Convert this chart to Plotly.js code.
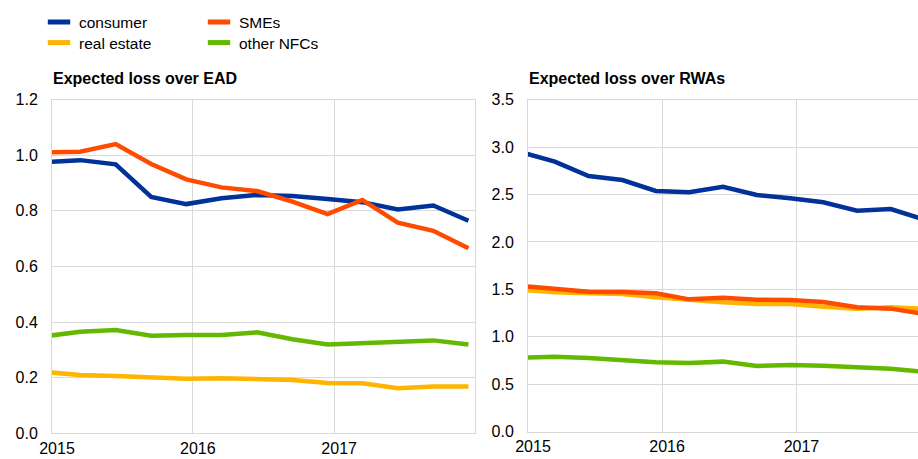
<!DOCTYPE html>
<html>
<head>
<meta charset="utf-8">
<script src="https://cdn.plot.ly/plotly-3.0.1.min.js"></script>
<style>
html, body { margin: 0; padding: 0; background: #fff; }
#chart { width: 918px; height: 459px; }
</style>
</head>
<body>
<div id="chart"></div>
<script>
// Quarterly observations (mid-month of Dec, Mar, Jun, Sep)
var dates = ["2014-12-15","2015-03-15","2015-06-15","2015-09-15","2015-12-15",
             "2016-03-15","2016-06-15","2016-09-15","2016-12-15",
             "2017-03-15","2017-06-15","2017-09-15","2017-12-15"];

// Left panel: expected loss over EAD
var consumerEAD   = [0.975, 0.982, 0.967, 0.850, 0.824, 0.845, 0.857, 0.853, 0.842, 0.831, 0.805, 0.819, 0.764];
var smeEAD        = [1.010, 1.012, 1.040, 0.968, 0.913, 0.884, 0.871, 0.833, 0.788, 0.839, 0.757, 0.728, 0.665];
var realEstateEAD = [0.220, 0.210, 0.206, 0.202, 0.196, 0.198, 0.193, 0.192, 0.181, 0.180, 0.162, 0.168, 0.168];
var otherNfcEAD   = [0.349, 0.365, 0.371, 0.351, 0.353, 0.353, 0.363, 0.338, 0.319, 0.323, 0.327, 0.334, 0.319];

// Right panel: expected loss over RWAs
var consumerRWA   = [2.945, 2.846, 2.695, 2.653, 2.537, 2.523, 2.582, 2.495, 2.460, 2.418, 2.329, 2.347, 2.236];
var smeRWA        = [1.535, 1.503, 1.475, 1.472, 1.458, 1.394, 1.412, 1.391, 1.387, 1.366, 1.310, 1.296, 1.240];
var realEstateRWA = [1.495, 1.470, 1.458, 1.450, 1.416, 1.387, 1.363, 1.345, 1.345, 1.317, 1.296, 1.310, 1.295];
var otherNfcRWA   = [0.778, 0.789, 0.775, 0.754, 0.730, 0.723, 0.737, 0.691, 0.701, 0.694, 0.680, 0.662, 0.630];

var seriesNames = ["consumer", "SMEs", "real estate", "other NFCs"];
var yearTickVals = ["2015-01-01", "2016-01-01", "2017-01-01"];
var yearTickText = ["2015", "2016", "2017"];
var panelTitles = ["Expected loss over EAD", "Expected loss over RWAs"];

var colors = {consumer: "#003299", sme: "#FF4B00", realEstate: "#FFB400", otherNfc: "#65B800"};
var W = 918, H = 459;
var FONT = "Liberation Sans, Arial, sans-serif";

function line(x, y, color, xa, ya, name) {
  return {type: "scatter", mode: "lines", x: x, y: y, name: name, xaxis: xa, yaxis: ya,
          line: {color: color, width: 4.5}, showlegend: false, hoverinfo: "skip"};
}
function legendItem(name, color, leg) {
  return {type: "scatter", mode: "markers", x: [null], y: [null], name: name, legend: leg,
          marker: {symbol: "line-ew", size: 17, color: color, line: {color: color, width: 6}},
          showlegend: true, hoverinfo: "skip"};
}

var data = [
  line(dates, consumerEAD, colors.consumer, "x", "y", seriesNames[0]),
  line(dates, realEstateEAD, colors.realEstate, "x", "y", seriesNames[2]),
  line(dates, smeEAD, colors.sme, "x", "y", seriesNames[1]),
  line(dates, otherNfcEAD, colors.otherNfc, "x", "y", seriesNames[3]),
  line(dates, consumerRWA, colors.consumer, "x2", "y2", seriesNames[0]),
  line(dates, realEstateRWA, colors.realEstate, "x2", "y2", seriesNames[2]),
  line(dates, smeRWA, colors.sme, "x2", "y2", seriesNames[1]),
  line(dates, otherNfcRWA, colors.otherNfc, "x2", "y2", seriesNames[3]),
  legendItem(seriesNames[0], colors.consumer, "legend"),
  legendItem(seriesNames[1], colors.sme, "legend"),
  legendItem(seriesNames[2], colors.realEstate, "legend2"),
  legendItem(seriesNames[3], colors.otherNfc, "legend2")
];

var gridC = "#d9d9d9";
function xax(domain, range) {
  return {type: "date", domain: domain, range: range, tickvals: yearTickVals, ticktext: yearTickText,
          showgrid: true, gridcolor: gridC, gridwidth: 1, showline: true, linecolor: gridC, linewidth: 1,
          mirror: true, ticks: "", ticklabelshift: 5, ticklabelstandoff: 0, zeroline: false,
          tickfont: {family: FONT, size: 16, color: "#000"}, fixedrange: true};
}
function yax(domain, range, dtick, anchor) {
  return {domain: domain, range: range, dtick: dtick, tick0: 0, tickformat: ".1f", anchor: anchor,
          showgrid: true, gridcolor: gridC, gridwidth: 1, showline: true, linecolor: gridC, linewidth: 1,
          mirror: true, ticks: "", ticklabelstandoff: 10, zeroline: false,
          tickfont: {family: FONT, size: 16, color: "#000"}, fixedrange: true};
}

var legendBase = {orientation: "h", entrywidth: 115, entrywidthmode: "pixels", xanchor: "left",
                  yanchor: "middle", bgcolor: "rgba(0,0,0,0)", borderwidth: 0,
                  font: {family: FONT, size: 15.5, color: "#000"}, traceorder: "normal"};

var layout = {
  width: W, height: H,
  margin: {l: 0, r: 0, t: 0, b: 0},
  paper_bgcolor: "#fff", plot_bgcolor: "#fff",
  font: {family: FONT, color: "#000"},
  xaxis: xax([52 / W, 475 / W], ["2015-01-01", "2018-01-01"]),
  yaxis: yax([(H - 433.3) / H, (H - 99.5) / H], [0, 1.2], 0.2, "x"),
  xaxis2: xax([528 / W, 1], ["2015-01-01", "2017-11-28"]),
  yaxis2: yax([(H - 431.5) / H, (H - 99.7) / H], [0, 3.5], 0.5, "x2"),
  legend: Object.assign({}, legendBase, {x: 39 / W, y: (H - 22.5) / H}),
  legend2: Object.assign({}, legendBase, {x: 39 / W, y: (H - 43) / H}),
  annotations: [
    {text: "<b>" + panelTitles[0] + "</b>", xref: "paper", yref: "paper", x: 51 / W, y: (H - 79) / H,
     xanchor: "left", yanchor: "middle", showarrow: false, font: {family: FONT, size: 16, color: "#000"}},
    {text: "<b>" + panelTitles[1] + "</b>", xref: "paper", yref: "paper", x: 527 / W, y: (H - 79) / H,
     xanchor: "left", yanchor: "middle", showarrow: false, font: {family: FONT, size: 16, color: "#000"}}
  ]
};
layout.xaxis.anchor = "y";
layout.xaxis2.anchor = "y2";

Plotly.newPlot("chart", data, layout, {staticPlot: true, displayModeBar: false});
</script>
</body>
</html>
